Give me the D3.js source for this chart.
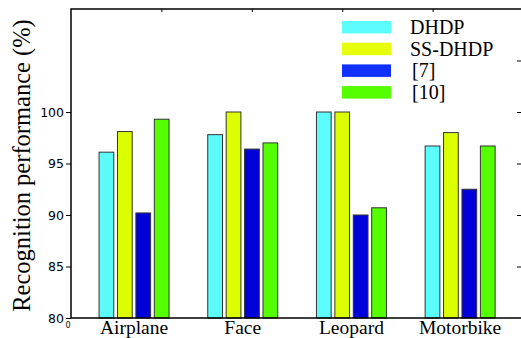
<!DOCTYPE html>
<html>
<head>
<meta charset="utf-8">
<script src="https://cdn.jsdelivr.net/npm/d3@7"></script>
<style>
  body { margin: 0; background: #fff; }
  svg { display: block; }
</style>
</head>
<body>
<svg width="521" height="338"></svg>
<script>
// data
var categories = ["Airplane", "Face", "Leopard", "Motorbike"];
var seriesNames = ["DHDP", "SS-DHDP", "[7]", "[10]"];
var dhdp   = [96.1, 97.8, 100, 96.7];
var ssdhdp = [98.1, 100, 100, 98.0];
var ref7   = [90.2, 96.4, 90.0, 92.5];
var ref10  = [99.3, 97.0, 90.7, 96.7];
var yTicksLeft = [80, 85, 90, 95, 100];
var yTicksRight = [85, 90, 95, 100, 105];

var barColors = ["#5cfcfc", "#dcff00", "#0000d8", "#55ff00"];
var legendColors = ["#5cfcfc", "#e6ff0a", "#1030ff", "#55ff00"];
var serif = "'Liberation Serif', 'Times New Roman', serif";

var series = [dhdp, ssdhdp, ref7, ref10];
var data = categories.map(function(c, i) {
  return { cat: c, pos: i + 1, values: series.map(function(s, k) { return { key: seriesNames[k], value: s[i], k: k }; }) };
});

var svg = d3.select("svg");
// plot box (note: "top" is reserved on window, so use other names)
var pLeft = 71, pRight = 521, pTop = 9, pBottom = 318;

var x = d3.scaleLinear().domain([0.42, 4.56]).range([pLeft, pRight]);
var xTop = d3.scaleLinear().domain([0, 5]).range([pLeft, pLeft + 452]);
var y = d3.scaleLinear().domain([80, 110]).range([pBottom, pTop]);

var inner = d3.scaleBand().domain(seriesNames).range([-35, 35]).paddingInner(0.2);

/* bars */
svg.append("g")
  .selectAll("g")
  .data(data)
  .enter().append("g")
    .attr("transform", function(d) { return "translate(" + x(d.pos) + ",0)"; })
  .selectAll("rect")
  .data(function(d) { return d.values; })
  .enter().append("rect")
    .attr("x", function(d) { return inner(d.key); })
    .attr("y", function(d) { return y(d.value); })
    .attr("width", inner.bandwidth())
    .attr("height", function(d) { return pBottom - y(d.value); })
    .attr("fill", function(d) { return barColors[d.k]; })
    .attr("stroke", "#333")
    .attr("stroke-width", 1);

/* frame */
svg.append("path")
  .attr("d", "M" + (pLeft + 452) + "," + pTop + "H" + pLeft + "V" + pBottom + "H" + (pLeft + 452))
  .attr("fill", "none")
  .attr("stroke", "#000")
  .attr("stroke-width", 1.5);

/* left axis */
var yAxis = svg.append("g")
  .attr("transform", "translate(" + pLeft + ",0)")
  .call(d3.axisLeft(y).tickValues(yTicksLeft).tickSize(5).tickPadding(2));
yAxis.select(".domain").remove();
yAxis.selectAll("text")
  .style("font-family", "'DejaVu Sans', sans-serif")
  .style("font-size", "12.5px")
  .attr("fill", "#000");

/* right ticks (inside) */
var yRight = svg.append("g")
  .attr("transform", "translate(" + pRight + ",0)")
  .call(d3.axisLeft(y).tickValues(yTicksRight).tickSize(4).tickFormat(""));
yRight.select(".domain").remove();
yRight.selectAll("line").attr("x2", -4);

/* top ticks (inside) */
var xAxisTop = svg.append("g")
  .attr("transform", "translate(0," + pTop + ")")
  .call(d3.axisBottom(xTop).tickValues([1, 2, 3, 4]).tickSize(3).tickFormat(""));
xAxisTop.select(".domain").remove();

/* category labels */
svg.append("g")
  .selectAll("text")
  .data(data)
  .enter().append("text")
    .attr("x", function(d) { return x(d.pos); })
    .attr("y", 334)
    .attr("text-anchor", "middle")
    .style("font-family", serif)
    .style("font-size", "19.5px")
    .text(function(d) { return d.cat; });

svg.append("text")
  .attr("x", 68)
  .attr("y", 328)
  .attr("text-anchor", "middle")
  .style("font-family", "'DejaVu Sans', sans-serif")
  .style("font-size", "8px")
  .text("0");

/* y title */
svg.append("text")
  .attr("transform", "translate(30," + ((pTop + pBottom) / 2 + 2) + ") rotate(-90)")
  .attr("text-anchor", "middle")
  .style("font-family", serif)
  .style("font-size", "24.5px")
  .text("Recognition performance (%)");

/* legend */
var legend = svg.append("g")
  .selectAll("g")
  .data(seriesNames)
  .enter().append("g")
    .attr("transform", function(d, i) { return "translate(342," + (21 + i * 21.7) + ")"; });

legend.append("rect")
  .attr("width", 49)
  .attr("height", 12.5)
  .attr("fill", function(d, i) { return legendColors[i]; });

legend.append("text")
  .attr("x", function(d, i) { return i < 2 ? 68 : 70; })
  .attr("y", 13)
  .style("font-family", serif)
  .style("font-size", "20px")
  .text(function(d) { return d; });
</script>
</body>
</html>
